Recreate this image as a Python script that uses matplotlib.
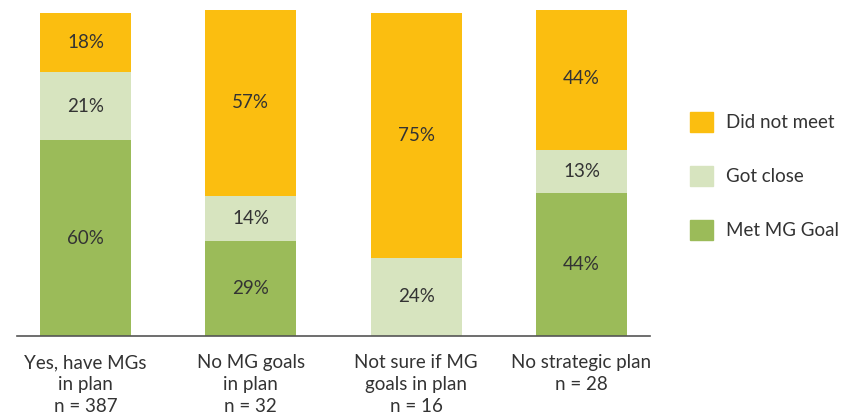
import numpy as np
import matplotlib.pyplot as plt
from matplotlib.patches import Patch

plt.rcParams['font.family'] = ['Lato', 'DejaVu Sans']

# Share of respondents by planning status (percent)
categories = ["Yes, have MGs\nin plan\nn = 387",
              "No MG goals\nin plan\nn = 32",
              "Not sure if MG\ngoals in plan\nn = 16",
              "No strategic plan\nn = 28"]
met_goal = [60, 29, 0, 44]
got_close = [21, 14, 24, 13]
did_not_meet = [18, 57, 75, 44]

series_names = ["Met MG Goal", "Got close", "Did not meet"]
colors = ["#9BBB59", "#D7E4BF", "#FBBE10"]
text_color = "#333333"
fs = 13.5

fig = plt.figure(figsize=(8.49, 4.16), dpi=100)
ax = fig.add_axes([17 / 849, 80 / 416, 633 / 849, 326 / 416])

x = np.arange(len(categories))
bottom = np.zeros(len(categories))
for vals, color in zip([met_goal, got_close, did_not_meet], colors):
    vals = np.array(vals, dtype=float)
    ax.bar(x, vals, width=0.55, bottom=bottom, color=color, linewidth=0)
    for xi, b, v in zip(x, bottom, vals):
        if v > 0:
            ax.text(xi, b + v / 2, f"{v:.0f}%", ha="center", va="center",
                    fontsize=fs, color=text_color)
    bottom += vals

ax.set_xlim(-0.414, 3.414)
ax.set_ylim(0, 100)
for side in ["top", "right", "left"]:
    ax.spines[side].set_visible(False)
ax.spines["bottom"].set_color("#555555")
ax.spines["bottom"].set_linewidth(1.2)
ax.set_yticks([])
ax.set_xticks(x)
ax.set_xticklabels(categories, fontsize=fs, color=text_color, linespacing=1.37)
ax.tick_params(axis="x", length=0, pad=13)

handles = [Patch(color=c) for c in colors[::-1]]
fig.legend(handles, series_names[::-1], loc="center left",
           bbox_to_anchor=(677 / 849, 1 - 176 / 416), frameon=False,
           fontsize=fs, handlelength=1.2, handleheight=1.2,
           labelspacing=1.85, handletextpad=0.7, borderpad=0.2,
           labelcolor=text_color)

fig.savefig("out.png", dpi=100)
